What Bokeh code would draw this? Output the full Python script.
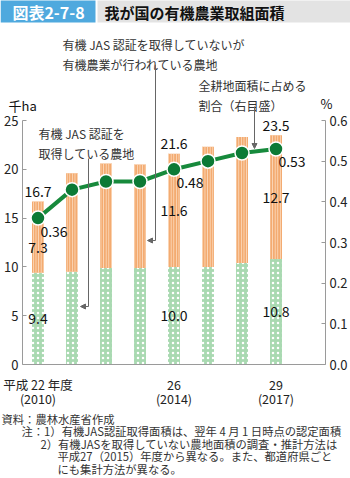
from bokeh.plotting import figure
from bokeh.models import (Range1d, LinearAxis, FixedTicker, Label, Arrow, NormalHead,
                          ColumnDataSource, NumeralTickFormatter)
from bokeh.embed import file_html
from bokeh.resources import INLINE

# ---------------- data ----------------
years = [2010, 2011, 2012, 2013, 2014, 2015, 2016, 2017]
certified = [9.4, 9.5, 9.9, 9.9, 10.0, 10.0, 10.4, 10.8]          # 千ha 有機JAS認証
non_certified = [7.3, 10.1, 10.7, 10.6, 11.6, 12.3, 12.9, 12.7]   # 千ha 認証なし
share_pct = [0.36, 0.43, 0.45, 0.45, 0.48, 0.50, 0.52, 0.53]      # % 全耕地面積比
era_labels = {0: "平成 22 年度", 4: "26", 7: "29"}
year_labels = {0: "(2010)", 4: "(2014)", 7: "(2017)"}
labeled_idx = [0, 4, 7]
left_ticks = [0, 5, 10, 15, 20, 25]
right_ticks = [0.0, 0.1, 0.2, 0.3, 0.4, 0.5, 0.6]

title_tag = "図表2-7-8"
title_text = "我が国の有機農業取組面積"
notes = [
    "資料：農林水産省作成",
    "注：1）有機JAS認証取得面積は、翌年 4 月 1 日時点の認定面積",
    "2）有機JASを取得していない農地面積の調査・推計方法は",
    "平成27（2015）年度から異なる。また、都道府県ごと",
    "にも集計方法が異なる。",
]

FONT = "Noto Sans CJK JP"

# ---------------- geometry (page px) ----------------
W, H = 350, 478
FL, FR, FT, FB = 22, 325, 120, 364   # plot area
X0, DX = 37.5, 34.0                  # first bar centre, bar pitch
YS = (FB - FT) / 25.0
PS = (FB - FT) / 0.6

def dx(cx):
    return (cx - X0) / DX

def dy(cy):
    return (FB - cy) / YS

p = figure(width=W, height=H, output_backend="svg", toolbar_location=None,
           x_range=Range1d(dx(0), dx(W)), y_range=Range1d(dy(H), dy(0)),
           x_axis_type=None, y_axis_type=None, min_border=0)
p.outline_line_color = None
p.extra_y_ranges = {"pct": Range1d((FB - H) / PS, FB / PS)}

# ---------------- title strip ----------------
p.quad(left=[dx(0), dx(97)], right=[dx(95), dx(W + 5)], top=[dy(-5), dy(-5)],
       bottom=[dy(22), dy(22)], fill_color=["#4fa9de", "#e3e3e3"], line_color=None)
p.add_layout(Label(x=dx(48), y=dy(11.5), text=title_tag, text_font=FONT,
                   text_font_size="16px", text_font_style="bold", text_color="white",
                   text_align="center", text_baseline="middle"))
p.add_layout(Label(x=dx(104), y=dy(11.5), text=title_text, text_font=FONT,
                   text_font_size="15px", text_font_style="bold", text_color="#111111",
                   text_align="left", text_baseline="middle"))

# ---------------- axes ----------------
AX = "#9a9a9a"
def style_axis(ax):
    ax.axis_line_color = AX
    ax.major_tick_line_color = AX
    ax.major_tick_in = 4
    ax.major_tick_out = 0
    ax.minor_tick_line_color = None
    ax.major_label_text_font = FONT
    ax.major_label_text_font_size = "13px"
    ax.major_label_text_color = "#222222"
    ax.major_label_standoff = 4

ly = LinearAxis(ticker=FixedTicker(ticks=left_ticks), bounds=(0, 25), fixed_location=dx(FL))
style_axis(ly)
p.add_layout(ly, "left")

ry = LinearAxis(y_range_name="pct", ticker=FixedTicker(ticks=right_ticks), bounds=(0, 0.6),
                formatter=NumeralTickFormatter(format="0.0"), fixed_location=dx(FR))
style_axis(ry)
p.add_layout(ry, "right")

bx = LinearAxis(ticker=FixedTicker(ticks=labeled_idx), bounds=(dx(FL), dx(FR)),
                fixed_location=0)
style_axis(bx)
bx.major_label_overrides = era_labels
bx.major_tick_line_color = None
bx.major_label_text_font_size = "12.5px"
bx.major_label_standoff = 10
p.add_layout(bx, "below")

bx2 = LinearAxis(ticker=FixedTicker(ticks=labeled_idx), fixed_location=0)
style_axis(bx2)
bx2.axis_line_color = None
bx2.major_label_overrides = year_labels
bx2.major_tick_line_color = None
bx2.major_label_text_font_size = "12.5px"
bx2.major_label_standoff = 24
p.add_layout(bx2, "below")

# ---------------- bars & line ----------------
x = list(range(len(years)))
total = [c + n for c, n in zip(certified, non_certified)]
src = ColumnDataSource(dict(x=x, cert=certified, non=non_certified, total=total, share=share_pct))

BW = 12 / DX
p.vbar(x="x", width=BW, bottom=0, top="cert", source=src, fill_color="#a9d9b1",
       line_color=None, hatch_pattern="dot", hatch_color="white", hatch_scale=5,
       hatch_weight=1.2)
p.vbar(x="x", width=BW, bottom="cert", top="total", source=src, fill_color="#f3ab71",
       line_color=None, hatch_pattern="vertical_line", hatch_color="#fcdcc0",
       hatch_scale=2.6, hatch_weight=1)

p.line(x="x", y="share", source=src, y_range_name="pct", line_color="#178a3c", line_width=4)
p.scatter(x="x", y="share", source=src, y_range_name="pct", size=14,
          fill_color="#0c7a35", line_color="white", line_width=1.5)

def lab(text, xx, yy, size="14px", color="#111111", align="center", base="middle",
        xo=0, yo=0, rng="default"):
    p.add_layout(Label(x=xx, y=yy, text=text, text_font=FONT, text_font_size=size,
                       text_color=color, text_align=align, text_baseline=base,
                       x_offset=xo, y_offset=yo, y_range_name=rng))

for i in labeled_idx:
    lab(f"{total[i]:.1f}", i, total[i], yo=10)
    lab(f"{certified[i]:.1f}", i, certified[i] / 2)
    mid = certified[i] + non_certified[i] / 2
    lab(f"{non_certified[i]:.1f}", i, mid, yo=(-10 if i == 0 else 0))
    lab(f"{share_pct[i]:.2f}", i, share_pct[i], xo=16, yo=-13, rng="pct")

# units
lab("千ha", dx(8), dy(105), size="13px", align="left")
lab("%", dx(326), dy(103), size="13px")

# ---------------- annotations ----------------
ANN = "#333333"
def ann(text, cx, cy_top):
    p.add_layout(Label(x=dx(cx), y=dy(cy_top), text=text, text_font=FONT,
                       text_font_size="12px", text_color=ANN, text_align="left",
                       text_baseline="top", text_line_height=1.22))

ann("有機 JAS 認証を取得していないが\n有機農業が行われている農地", 62, 35)
ann("有機 JAS 認証を\n取得している農地", 38, 124)
ann("全耕地面積に占める\n割合（右目盛）", 198, 76)

LC = "#666666"
def seg(x1, y1, x2, y2, head=False):
    end = NormalHead(size=5, fill_color=LC, line_color=LC, line_width=1) if head else None
    p.add_layout(Arrow(x_start=dx(x1), y_start=dy(y1), x_end=dx(x2), y_end=dy(y2),
                       line_color=LC, line_width=1, end=end))

seg(88, 158, 88, 306)
seg(88, 306, 80, 306, head=True)
seg(155, 64, 155, 240)
seg(155, 240, 147, 240, head=True)
seg(254, 106, 254, 148, head=True)

# ---------------- notes ----------------
note_pos = [(1, 418), (21, 430.5), (40, 443), (57, 455.5), (57, 468)]
for txt, (cx, cy) in zip(notes, note_pos):
    p.add_layout(Label(x=dx(cx), y=dy(cy), text=txt, text_font=FONT, text_font_size="11.3px",
                       text_color="#333333", text_align="left", text_baseline="middle"))

html = file_html(p, INLINE)
html = html.replace("</head>", "<style>html,body{margin:0;padding:0;}</style></head>", 1)
open("out.html", "w").write(html)
